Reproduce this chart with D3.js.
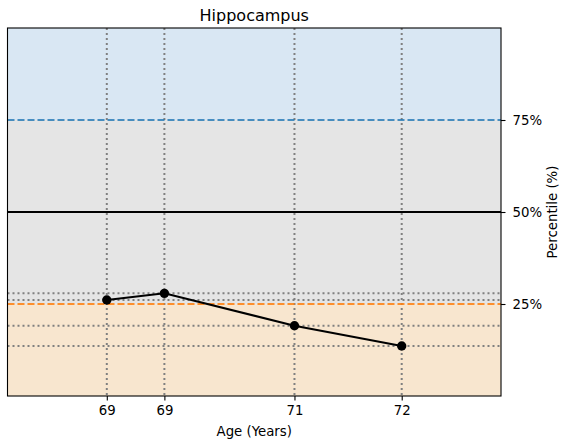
<!DOCTYPE html>
<html>
<head>
<meta charset="utf-8">
<script src="https://cdn.jsdelivr.net/npm/d3@7"></script>
<style>
  html, body { margin: 0; padding: 0; background: #fff; }
  svg { display: block; font-family: "DejaVu Sans", sans-serif; }
</style>
</head>
<body>
<svg id="chart" width="561" height="445"></svg>
<script>
// ---- data ----
const title = "Hippocampus";
const ages = [69.2, 69.78, 71.09, 72.17];
const percentiles = [26.1, 27.9, 19.1, 13.6];
const xTickLabels = ["69", "69", "71", "72"];
const yTicks = [25, 50, 75];
const yTickLabels = ["25%", "50%", "75%"];
const bandBounds = [0, 25, 75, 100];
const bandColors = ["#f8e6cf", "#e5e5e5", "#d9e7f3"];
const xLabel = "Age (Years)";
const yLabel = "Percentile (%)";

// ---- layout ----
const svg = d3.select("#chart");
const m = { left: 7.5, right: 501, top: 28, bottom: 396 };

const x = d3.scaleLinear()
  .domain([d3.min(ages) - 1, d3.max(ages) + 1])
  .range([m.left, m.right]);
const y = d3.scaleLinear().domain([0, 100]).range([m.bottom, m.top]);

const g = svg.append("g");

// bands
g.selectAll("rect.band")
  .data(bandColors)
  .join("rect")
  .attr("x", m.left)
  .attr("width", m.right - m.left)
  .attr("y", (d, i) => y(bandBounds[i + 1]))
  .attr("height", (d, i) => y(bandBounds[i]) - y(bandBounds[i + 1]))
  .attr("fill", d => d);

// dotted guides
const dot = "2,3";
g.selectAll("line.vguide")
  .data(ages)
  .join("line")
  .attr("x1", d => x(d)).attr("x2", d => x(d))
  .attr("y1", m.top).attr("y2", m.bottom)
  .attr("stroke", "#808080").attr("stroke-width", 2)
  .attr("stroke-dasharray", dot);
g.selectAll("line.hguide")
  .data(percentiles)
  .join("line")
  .attr("x1", m.left).attr("x2", m.right)
  .attr("y1", d => y(d)).attr("y2", d => y(d))
  .attr("stroke", "#808080").attr("stroke-width", 2)
  .attr("stroke-dasharray", dot);

// reference lines
const refStyles = [
  { v: yTicks[0], color: "#ff7f0e", dash: "7,3", op: 0.85 },
  { v: yTicks[1], color: "#000000", dash: null, op: 1 },
  { v: yTicks[2], color: "#1f77b4", dash: "7,3", op: 0.8 }
];
g.selectAll("line.ref")
  .data(refStyles)
  .join("line")
  .attr("x1", m.left).attr("x2", m.right)
  .attr("y1", d => y(d.v)).attr("y2", d => y(d.v))
  .attr("stroke", d => d.color)
  .attr("stroke-opacity", d => d.op)
  .attr("stroke-width", 2)
  .attr("stroke-dasharray", d => d.dash);

// data line
const pts = ages.map((a, i) => [a, percentiles[i]]);
g.append("path")
  .datum(pts)
  .attr("fill", "none")
  .attr("stroke", "#000")
  .attr("stroke-width", 2)
  .attr("d", d3.line().x(d => x(d[0])).y(d => y(d[1])));
g.selectAll("circle.pt")
  .data(pts)
  .join("circle")
  .attr("cx", d => x(d[0])).attr("cy", d => y(d[1]))
  .attr("r", 4.7)
  .attr("fill", "#000");

// frame
svg.append("rect")
  .attr("x", m.left).attr("y", m.top)
  .attr("width", m.right - m.left).attr("height", m.bottom - m.top)
  .attr("fill", "none").attr("stroke", "#000").attr("stroke-width", 1.1);

// x axis
const xAxis = d3.axisBottom(x)
  .tickValues(ages)
  .tickFormat((d, i) => xTickLabels[i])
  .tickSize(4.5).tickPadding(5);
const xg = svg.append("g").attr("transform", `translate(0,${m.bottom})`).call(xAxis);
xg.select(".domain").remove();
xg.selectAll("text").attr("font-size", 13.3).attr("fill", "#000").attr("font-family", "DejaVu Sans");
xg.selectAll("line").attr("stroke", "#000").attr("stroke-width", 1.1);

// right y axis
const yAxis = d3.axisRight(y)
  .tickValues(yTicks)
  .tickFormat((d, i) => yTickLabels[i])
  .tickSize(4.5).tickPadding(7);
const yg = svg.append("g").attr("transform", `translate(${m.right},0)`).call(yAxis);
yg.select(".domain").remove();
yg.selectAll("text").attr("font-size", 13.3).attr("fill", "#000").attr("font-family", "DejaVu Sans");
yg.selectAll("line").attr("stroke", "#000").attr("stroke-width", 1.1);

// title and labels
svg.append("text")
  .attr("x", (m.left + m.right) / 2).attr("y", 20.5)
  .attr("text-anchor", "middle")
  .attr("font-size", 16)
  .text(title);
svg.append("text")
  .attr("x", (m.left + m.right) / 2).attr("y", 436)
  .attr("text-anchor", "middle")
  .attr("font-size", 13.3)
  .text(xLabel);
svg.append("text")
  .attr("transform", `translate(557,${(m.top + m.bottom) / 2}) rotate(-90)`)
  .attr("text-anchor", "middle")
  .attr("font-size", 13.3)
  .text(yLabel);
</script>
</body>
</html>
